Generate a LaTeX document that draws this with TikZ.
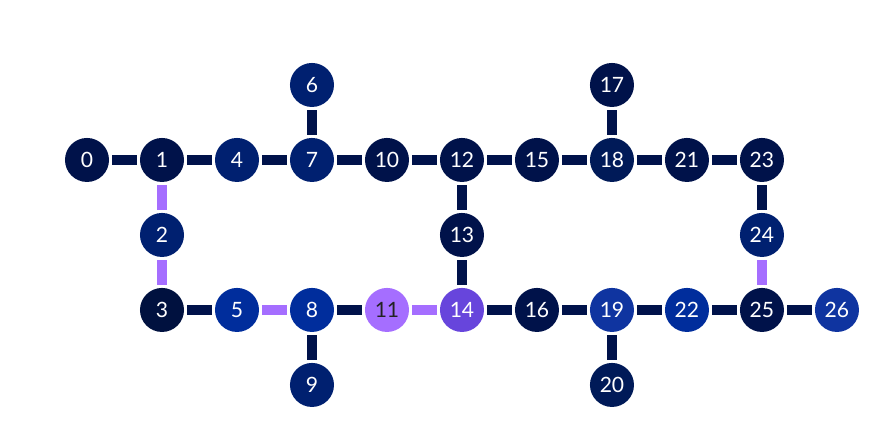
\documentclass[tikz,border=0pt]{standalone}
\usepackage{fontspec}
\setmainfont{Lato}
\definecolor{qdark}{HTML}{00124A}
\definecolor{qdarker}{HTML}{00113F}
\definecolor{qmid}{HTML}{002070}
\definecolor{qnavy}{HTML}{001A58}
\definecolor{qblue}{HTML}{002D9C}
\definecolor{qblueb}{HTML}{0F34A0}
\definecolor{qlilac}{HTML}{A56EFF}
\definecolor{qviolet}{HTML}{6745DC}
\definecolor{qtxt}{HTML}{222222}
\tikzset{qb/.style={circle, minimum size=0.587cm, inner sep=0pt, outer sep=0.045cm,
    text=white, font=\fontsize{8}{9}\selectfont, fill=qdark},
  cpl/.style={line width=0.14cm, draw=qdark},
  cplh/.style={line width=0.14cm, draw=qlilac}}

\begin{document}
\begin{tikzpicture}
  \useasboundingbox (-1.16,1.133) rectangle (10.787,-4.653);
  % top line
  \node[qb] (q0) at (0,-1) {0};
  \node[qb] (q1) at (1,-1) {1};
  \node[qb, fill=qmid] (q4) at (2,-1) {4};
  \node[qb, fill=qmid] (q7) at (3,-1) {7};
  \node[qb] (q10) at (4,-1) {10};
  \node[qb] (q12) at (5,-1) {12};
  \node[qb] (q15) at (6,-1) {15};
  \node[qb, fill=qnavy] (q18) at (7,-1) {18};
  \node[qb] (q21) at (8,-1) {21};
  \node[qb] (q23) at (9,-1) {23};
  % spurs
  \node[qb, fill=qmid] (q6) at (3,0) {6};
  \node[qb] (q17) at (7,0) {17};
  \node[qb, fill=qmid] (q2) at (1,-2) {2};
  \node[qb] (q13) at (5,-2) {13};
  \node[qb, fill=qmid] (q24) at (9,-2) {24};
  \node[qb, fill=qmid] (q9) at (3,-4) {9};
  \node[qb, fill=qnavy] (q20) at (7,-4) {20};
  % bottom line
  \node[qb, fill=qdarker] (q3) at (1,-3) {3};
  \node[qb, fill=qblue] (q5) at (2,-3) {5};
  \node[qb, fill=qblue] (q8) at (3,-3) {8};
  \node[qb, fill=qlilac, text=qtxt] (q11) at (4,-3) {11};
  \node[qb, fill=qviolet] (q14) at (5,-3) {14};
  \node[qb] (q16) at (6,-3) {16};
  \node[qb, fill=qblueb] (q19) at (7,-3) {19};
  \node[qb, fill=qblue] (q22) at (8,-3) {22};
  \node[qb] (q25) at (9,-3) {25};
  \node[qb, fill=qblueb] (q26) at (10,-3) {26};

  \draw[cpl] (q0) -- (q1);  \draw[cpl] (q1) -- (q4);  \draw[cpl] (q4) -- (q7);
  \draw[cpl] (q7) -- (q10); \draw[cpl] (q10) -- (q12); \draw[cpl] (q12) -- (q15);
  \draw[cpl] (q15) -- (q18); \draw[cpl] (q18) -- (q21); \draw[cpl] (q21) -- (q23);
  \draw[cpl] (q6) -- (q7);  \draw[cpl] (q17) -- (q18);
  \draw[cplh] (q1) -- (q2); \draw[cplh] (q2) -- (q3);
  \draw[cpl] (q12) -- (q13); \draw[cpl] (q13) -- (q14);
  \draw[cpl] (q23) -- (q24); \draw[cplh] (q24) -- (q25);
  \draw[cpl] (q3) -- (q5);  \draw[cplh] (q5) -- (q8);  \draw[cpl] (q8) -- (q11);
  \draw[cplh] (q11) -- (q14); \draw[cpl] (q14) -- (q16); \draw[cpl] (q16) -- (q19);
  \draw[cpl] (q19) -- (q22); \draw[cpl] (q22) -- (q25); \draw[cpl] (q25) -- (q26);
  \draw[cpl] (q8) -- (q9);  \draw[cpl] (q19) -- (q20);
\end{tikzpicture}
\end{document}
